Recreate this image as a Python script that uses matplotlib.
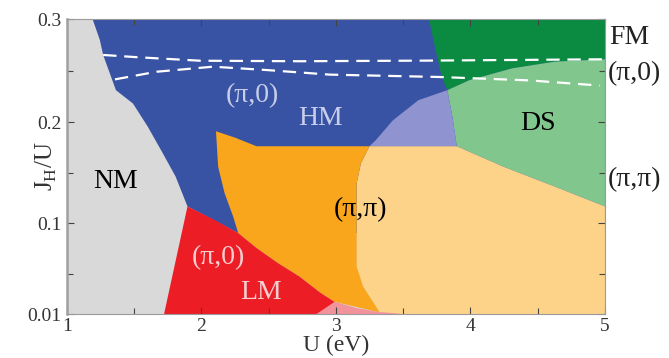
import numpy as np
import matplotlib
matplotlib.use('Agg')
from matplotlib import pyplot as plt

plt.rcParams['font.family'] = ['Liberation Serif', 'DejaVu Serif']
plt.rcParams['mathtext.fontset'] = 'custom'
plt.rcParams['mathtext.rm'] = 'Liberation Serif'

# phase boundaries, (U in eV, J_H/U)
nm_edge_U = [1.19, 1.244, 1.269, 1.364, 1.491, 1.602, 1.713, 1.808, 1.896, 1.722]
nm_edge_J = [0.30, 0.2798, 0.2651, 0.2309, 0.2179, 0.1951, 0.1689, 0.1459, 0.1164, 0.01]

lm_U = [1.896, 2.093, 2.273, 2.409, 2.568, 2.726, 2.884, 2.99, 2.90, 1.722]
lm_J = [0.1164, 0.1033, 0.0901, 0.0753, 0.0604, 0.0473, 0.031, 0.022, 0.01, 0.01]

pipi_U = [2.108, 2.25, 2.409, 3.249, 3.185, 3.154, 3.154, 3.201, 3.312, 3.328,
          3.30, 2.99, 2.884, 2.726, 2.568, 2.409, 2.273, 2.235, 2.172, 2.124]
pipi_J = [0.1908, 0.1845, 0.1760, 0.1760, 0.159, 0.1393, 0.0571, 0.0373, 0.0143, 0.01,
          0.0123, 0.022, 0.031, 0.0473, 0.0604, 0.0753, 0.0901, 0.1066, 0.1295, 0.1557]

pipi_ds_U = [3.249, 3.898, 4.246, 4.626, 5.0, 5.0, 3.328, 3.312, 3.201, 3.154, 3.154, 3.185]
pipi_ds_J = [0.1760, 0.1760, 0.1557, 0.1361, 0.1164, 0.01, 0.01, 0.0143, 0.0373, 0.0571, 0.1393, 0.159]

mix_U = [3.249, 3.296, 3.423, 3.613, 3.828, 3.866, 3.898]
mix_J = [0.1760, 0.182, 0.2016, 0.2212, 0.2309, 0.2049, 0.1760]

fm_U = [3.692, 3.740, 3.787, 3.828, 3.993, 4.31, 4.626, 5.0, 5.0]
fm_J = [0.30, 0.27, 0.244, 0.2309, 0.2407, 0.2521, 0.2586, 0.2609, 0.30]

ds_U = [3.828, 3.993, 4.31, 4.626, 5.0, 5.0, 4.626, 4.246, 3.898, 3.866]
ds_J = [0.2309, 0.2407, 0.2521, 0.2586, 0.2609, 0.1164, 0.1361, 0.1557, 0.1760, 0.2049]

lm_tail_U = [2.855, 2.99, 3.15, 3.30, 3.50]
lm_tail_J = [0.01, 0.022, 0.016, 0.0123, 0.01]

dash1_U = [1.269, 1.523, 1.99, 2.726, 3.676, 5.0]
dash1_J = [0.2651, 0.2629, 0.2595, 0.2590, 0.2596, 0.2609]
dash2_U = [1.357, 1.666, 2.085, 2.48, 2.954, 3.771, 4.44, 4.96]
dash2_J = [0.2414, 0.2488, 0.2537, 0.2505, 0.2460, 0.2437, 0.2404, 0.2354]

yticks = [0.01, 0.1, 0.2, 0.3]
ytick_labels = ['0.01', '0.1', '0.2', '0.3']
yminor = [0.05, 0.15, 0.25]
xticks = [1, 2, 3, 4, 5]
xminor = [1.5, 2.5, 3.5, 4.5]

# the J_H/U axis is piecewise linear between the labelled ticks
scale_J = [0.0, 0.01, 0.1, 0.2, 0.3, 0.4]
scale_pos = [-10.1, 0.0, 91.0, 192.0, 295.0, 398.0]


def fwd(y):
    return np.interp(y, scale_J, scale_pos)


def inv(p):
    return np.interp(p, scale_pos, scale_J)


fig = plt.figure(figsize=(6.69, 3.58), dpi=100)
ax = fig.add_axes([0.1001, 0.1229, 0.8042, 0.8240])
ax.set_yscale('function', functions=(fwd, inv))
ax.set_xlim(1, 5)
ax.set_ylim(0.01, 0.3)
ax.set_facecolor('#d9d9d9')

# HM fills everything right of the NM edge, other phases go on top
hm_U = nm_edge_U[:9] + [2.273, 5.0, 5.0]
hm_J = nm_edge_J[:9] + [0.0901, 0.0901, 0.30]
ax.fill(hm_U, hm_J, color='#3953a4', lw=0)
ax.fill(fm_U, fm_J, color='#0b8a42', lw=0)
ax.fill(ds_U, ds_J, color='#80c68d', lw=0)
ax.fill(mix_U, mix_J, color='#8f93cf', lw=0)
ax.fill(pipi_ds_U, pipi_ds_J, color='#fdd38a', lw=0)
ax.fill(pipi_U, pipi_J, color='#f9a61c', lw=0)
ax.fill(lm_U, lm_J, color='#ec1d25', lw=0)
ax.fill(lm_tail_U, lm_tail_J, color='#f2939c', lw=0)

ax.plot(dash1_U, dash1_J, color='white', lw=1.6, dashes=(6, 3.5))
ax.plot(dash2_U, dash2_J, color='white', lw=1.6, dashes=(6, 3.5))

fs = 20
ax.text(2.378, 0.2261, '(π,0)', color='#c8cdea', fontsize=fs, ha='center', va='center')
ax.text(2.884, 0.2033, 'HM', color='#c8cdea', fontsize=fs, ha='center', va='center')
ax.text(1.364, 0.141, 'NM', color='black', fontsize=fs, ha='center', va='center')
ax.text(3.185, 0.1131, '(π,π)', color='black', fontsize=fs, ha='center', va='center')
ax.text(2.124, 0.0654, '(π,0)', color='#f8cdd0', fontsize=fs, ha='center', va='center')
ax.text(2.441, 0.0308, 'LM', color='#f8cdd0', fontsize=fs, ha='center', va='center')
ax.text(4.5, 0.1984, 'DS', color='black', fontsize=fs, ha='center', va='center')
ax.text(5.03, 0.2816, 'FM', color='#222222', fontsize=fs, ha='left', va='center', clip_on=False)
ax.text(5.02, 0.2466, '(π,0)', color='#222222', fontsize=fs, ha='left', va='center', clip_on=False)
ax.text(5.02, 0.1426, '(π,π)', color='#222222', fontsize=fs, ha='left', va='center', clip_on=False)

ax.set_xticks(xticks)
ax.set_xticks(xminor, minor=True)
ax.set_yticks(yticks, labels=ytick_labels)
ax.set_yticks(yminor, minor=True)
ax.tick_params(which='both', direction='in', top=True, right=True, color='#444444',
               labelcolor='#333333', labelsize=14)
ax.tick_params(which='major', length=5, width=0.8)
ax.tick_params(which='minor', length=4, width=0.8)
ax.tick_params(axis='y', pad=4)
ax.tick_params(axis='x', pad=3)

for side in ['top', 'right', 'bottom']:
    ax.spines[side].set_color('#9a9a9a')
    ax.spines[side].set_linewidth(0.8)
ax.spines['left'].set_color('#a0a0a0')
ax.spines['left'].set_linewidth(1.8)

ax.set_xlabel('U (eV)', fontsize=17, color='#333333', labelpad=0)
ax.set_ylabel(r'J$_\mathrm{H}$/U', fontsize=18, color='#333333')
ax.yaxis.set_label_coords(-0.015, 0.5)

fig.savefig('out.png', dpi=100)
